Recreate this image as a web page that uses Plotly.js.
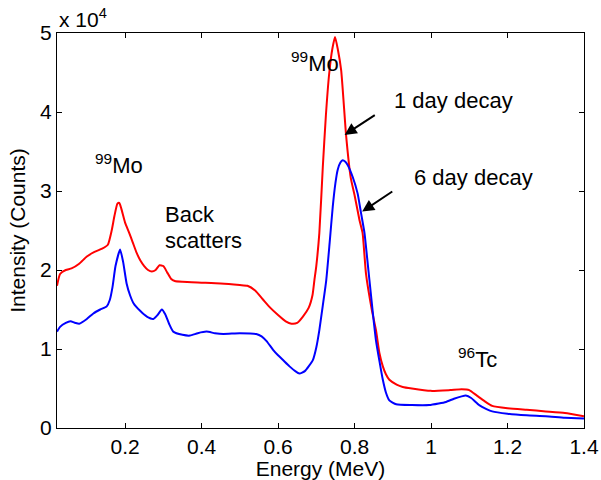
<!DOCTYPE html>
<html>
<head>
<meta charset="utf-8">
<script src="https://cdn.plot.ly/plotly-3.0.1.min.js"></script>
<style>html,body{margin:0;padding:0;background:#fff;}#chart{width:601px;height:480px;}</style>
</head>
<body>
<div id="chart"></div>
<script>
// Energy (MeV) and intensity (x 10^4 counts)
const energy1Day = [0.022,0.03,0.045,0.06,0.08,0.1,0.12,0.14,0.155,0.165,0.172,0.18,0.185,0.19,0.2,0.21,0.22,0.23,0.24,0.25,0.26,0.27,0.28,0.29,0.3,0.31,0.32,0.33,0.35,0.4,0.45,0.5,0.52,0.54,0.56,0.58,0.6,0.62,0.635,0.65,0.665,0.68,0.69,0.695,0.7,0.708,0.717,0.725,0.734,0.742,0.749,0.756,0.765,0.778,0.79,0.8,0.813,0.821,0.83,0.845,0.856,0.865,0.874,0.882,0.891,0.91,0.926,0.95,1.0,1.05,1.08,1.1,1.12,1.14,1.16,1.2,1.25,1.3,1.35,1.4];
const intensity1Day = [1.80,1.95,2.00,2.02,2.08,2.17,2.23,2.27,2.32,2.50,2.68,2.84,2.85,2.78,2.60,2.48,2.35,2.22,2.12,2.05,2.00,1.98,2.00,2.06,2.05,1.97,1.89,1.86,1.85,1.84,1.83,1.81,1.80,1.74,1.63,1.52,1.43,1.35,1.32,1.33,1.41,1.52,1.68,1.87,2.05,2.47,3.30,3.95,4.50,4.80,4.95,4.80,4.53,3.70,3.17,2.95,2.63,2.47,1.95,1.50,1.24,0.95,0.78,0.68,0.61,0.55,0.52,0.50,0.47,0.48,0.49,0.48,0.41,0.34,0.28,0.25,0.23,0.21,0.19,0.15];

const energy6Day = [0.022,0.03,0.045,0.057,0.07,0.08,0.1,0.117,0.135,0.152,0.16,0.167,0.175,0.187,0.195,0.204,0.213,0.222,0.24,0.257,0.274,0.285,0.296,0.305,0.315,0.326,0.35,0.37,0.39,0.413,0.435,0.457,0.5,0.543,0.557,0.57,0.587,0.6,0.613,0.63,0.645,0.656,0.67,0.68,0.691,0.7,0.708,0.717,0.726,0.735,0.743,0.75,0.756,0.763,0.769,0.776,0.782,0.795,0.808,0.817,0.826,0.833,0.839,0.848,0.856,0.865,0.874,0.882,0.891,0.909,0.95,0.995,1.02,1.039,1.06,1.08,1.091,1.105,1.126,1.145,1.16,1.2,1.25,1.3,1.35,1.4];
const intensity6Day = [1.22,1.28,1.33,1.35,1.33,1.32,1.38,1.45,1.50,1.54,1.62,1.78,2.05,2.26,2.10,1.83,1.68,1.58,1.48,1.41,1.38,1.43,1.50,1.44,1.32,1.22,1.18,1.17,1.20,1.22,1.20,1.19,1.20,1.19,1.16,1.10,0.99,0.92,0.86,0.78,0.72,0.69,0.72,0.78,0.86,1.02,1.24,1.55,1.87,2.35,2.80,3.10,3.27,3.36,3.39,3.37,3.33,3.18,2.97,2.72,2.47,2.15,1.87,1.45,1.11,0.85,0.61,0.45,0.35,0.30,0.29,0.29,0.31,0.33,0.37,0.40,0.41,0.38,0.29,0.24,0.21,0.18,0.16,0.15,0.13,0.12];

const xTicks = [0.2,0.4,0.6,0.8,1,1.2,1.4];
const xTickText = ['0.2','0.4','0.6','0.8','1','1.2','1.4'];
const yTicks = [0,1,2,3,4,5];
const yTickText = ['0','1','2','3','4','5'];

const FONT = 'Arial, "Liberation Sans", sans-serif';
const AX = 21;   // axis font size
const AN = 22;   // annotation font size

const traces = [
  {x: energy1Day, y: intensity1Day, type: 'scatter', mode: 'lines', name: '1 day decay',
   line: {color: '#ff0000', width: 2, shape: 'spline', smoothing: 0.5}},
  {x: energy6Day, y: intensity6Day, type: 'scatter', mode: 'lines', name: '6 day decay',
   line: {color: '#0000ff', width: 2, shape: 'spline', smoothing: 0.5}}
];

const txt = (text, x, y, xanchor) => ({text, x, y, xref: 'x', yref: 'y', showarrow: false,
  xanchor: xanchor || 'center', yanchor: 'middle', font: {family: FONT, size: AN, color: '#000'}});
const arrow = (x, y, ax, ay) => ({text: '', x, y, ax, ay, xref: 'x', yref: 'y', showarrow: true,
  arrowhead: 2, arrowsize: 1.2, arrowwidth: 2, arrowcolor: '#000', standoff: 0});

const layout = {
  width: 601, height: 480,
  margin: {l: 57, r: 17, t: 33, b: 52},
  paper_bgcolor: '#fff', plot_bgcolor: '#fff',
  showlegend: false,
  font: {family: FONT, size: AX, color: '#000'},
  xaxis: {range: [0.022, 1.4], tickvals: xTicks, ticktext: xTickText, ticks: 'inside', ticklen: 5,
    tickcolor: '#000', showline: true, linecolor: '#000', linewidth: 1, mirror: 'allticks',
    showgrid: false, zeroline: false, tickfont: {family: FONT, size: AX},
    title: {text: 'Energy (MeV)', font: {family: FONT, size: AX}, standoff: 2}},
  yaxis: {range: [0, 5], tickvals: yTicks, ticktext: yTickText, ticks: 'inside', ticklen: 5,
    tickcolor: '#000', showline: true, linecolor: '#000', linewidth: 1, mirror: 'allticks',
    showgrid: false, zeroline: false, tickfont: {family: FONT, size: AX},
    title: {text: 'Intensity (Counts)', font: {family: FONT, size: AX}, standoff: 8}},
  annotations: [
    txt('<sup>99</sup>Mo', 0.183, 3.34),
    txt('<sup>99</sup>Mo', 0.697, 4.63),
    txt('1 day decay', 1.06, 4.15),
    txt('6 day decay', 1.111, 3.17),
    txt('Back', 0.30, 2.70, 'left'),
    txt('scatters', 0.30, 2.37, 'left'),
    txt('<sup>96</sup>Tc', 1.122, 0.886),
    arrow(0.774, 3.71, 31.7, -20.7),
    arrow(0.820, 2.74, 31.6, -21),
    {text: 'x 10<sup>4</sup>', xref: 'paper', yref: 'paper', x: 0, y: 1.038, xanchor: 'left', yanchor: 'middle',
     showarrow: false, font: {family: FONT, size: AX, color: '#000'}}
  ]
};

Plotly.newPlot('chart', traces, layout, {displayModeBar: false, staticPlot: true});
</script>
</body>
</html>
